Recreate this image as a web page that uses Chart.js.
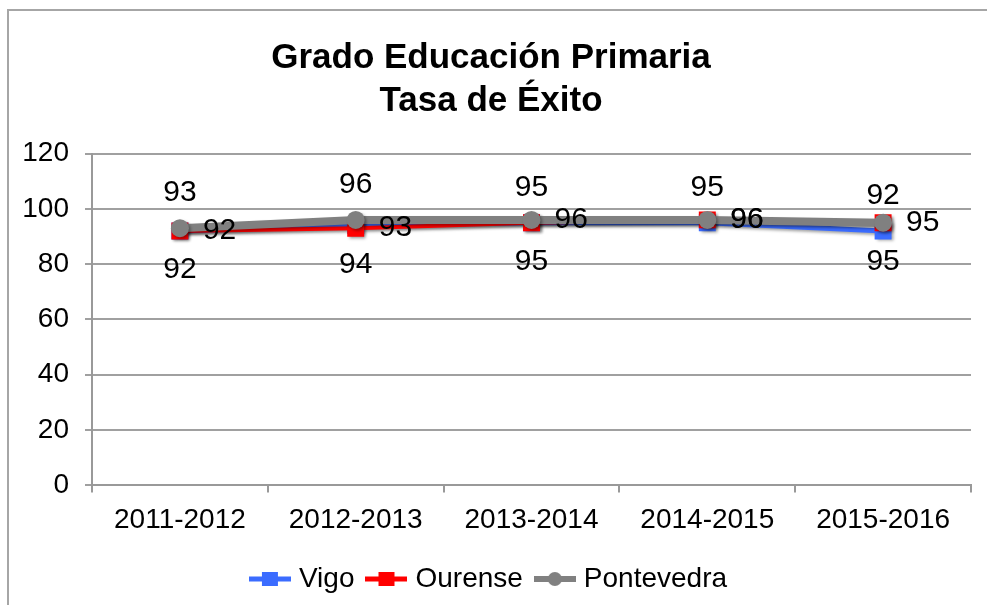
<!DOCTYPE html>
<html>
<head>
<meta charset="utf-8">
<script src="https://cdn.jsdelivr.net/npm/chart.js@4"></script>
<style>
  html, body { margin: 0; padding: 0; background: #fff; overflow: hidden; }
  #frame {
    position: absolute; left: 7px; top: 9px;
    width: 978px; height: 594px;
    border-top: 2px solid #a6a6a6; border-left: 2px solid #a6a6a6;
  }
  #wrap { position: absolute; left: 0; top: 0; width: 978px; height: 594px; }
</style>
</head>
<body>
<div id="frame"><div id="wrap"><canvas id="chart"></canvas></div></div>
<script>
const years = ["2011-2012", "2012-2013", "2013-2014", "2014-2015", "2015-2016"];
const vigo = [92, 94, 95, 95, 92];
const ourense = [92, 93, 95, 96, 95];
const pontevedra = [93, 96, 96, 96, 95];
const yTicks = [0, 20, 40, 60, 80, 100, 120];

// where each value label sits (Excel had them dragged around by hand)
const vigoPlace = ["below", "below", "above", "above", "above"];
const ourensePlace = ["right", "right", "below", "right", "below"];
const pontePlace = ["above", "above", "right", "right", "right"];

const FONT = '"Liberation Sans", Arial, sans-serif';

function legendIcon(color, lw, style) {
  const c = document.createElement("canvas");
  c.width = 42; c.height = 18;
  const g = c.getContext("2d");
  g.strokeStyle = color;
  g.fillStyle = color;
  g.lineWidth = lw;
  g.beginPath(); g.moveTo(0, 9); g.lineTo(42, 9); g.stroke();
  if (style === "rect") {
    g.fillRect(13, 2, 16, 14);
  } else {
    g.beginPath(); g.arc(21, 9, 7, 0, Math.PI * 2); g.fill();
  }
  return c;
}

const shadowPlugin = {
  id: "shadow",
  beforeDatasetDraw(chart) {
    const ctx = chart.ctx;
    ctx.save();
    ctx.shadowColor = "rgba(0,0,0,0.35)";
    ctx.shadowBlur = 3;
    ctx.shadowOffsetX = 2;
    ctx.shadowOffsetY = 2;
  },
  afterDatasetDraw(chart) {
    chart.ctx.restore();
  }
};

const valueLabels = {
  id: "valueLabels",
  afterDatasetsDraw(chart) {
    const ctx = chart.ctx;
    ctx.save();
    ctx.font = "30px " + FONT;
    ctx.fillStyle = "#000";
    ctx.textBaseline = "middle";
    chart.data.datasets.forEach((ds, i) => {
      const meta = chart.getDatasetMeta(i);
      meta.data.forEach((pt, j) => {
        const where = ds.labelPlace[j];
        let x = pt.x, y = pt.y;
        ctx.textAlign = "center";
        if (where === "above") y -= 35;
        else if (where === "below") y += 39;
        else { ctx.textAlign = "left"; x += 23; }
        ctx.fillText(String(ds.data[j]), x, y);
      });
    });
    ctx.restore();
  }
};

const icons = [
  legendIcon("#3b6cff", 5, "rect"),
  legendIcon("#ff0000", 5, "rect"),
  legendIcon("#808080", 6, "circle")
];

new Chart(document.getElementById("chart"), {
  type: "line",
  plugins: [shadowPlugin, valueLabels],
  data: {
    labels: years,
    datasets: [
      {
        label: "Vigo",
        data: vigo,
        labelPlace: vigoPlace,
        borderColor: "#3b6cff",
        backgroundColor: "#3b6cff",
        borderWidth: 5,
        pointStyle: "rect",
        pointRadius: 12,
        pointBorderWidth: 0,
        order: 2
      },
      {
        label: "Ourense",
        data: ourense,
        labelPlace: ourensePlace,
        borderColor: "#ff0000",
        backgroundColor: "#ff0000",
        borderWidth: 4,
        pointStyle: "rect",
        pointRadius: 12,
        pointBorderWidth: 0,
        order: 1
      },
      {
        label: "Pontevedra",
        data: pontevedra,
        labelPlace: pontePlace,
        borderColor: "#808080",
        backgroundColor: "#808080",
        borderWidth: 8,
        pointStyle: "circle",
        pointRadius: 9,
        pointBorderWidth: 0,
        order: 0
      }
    ]
  },
  options: {
    responsive: true,
    maintainAspectRatio: false,
    animation: false,
    layout: { padding: { left: 2, right: 16, top: 0, bottom: 2 } },
    plugins: {
      title: {
        display: true,
        text: ["Grado Educación Primaria", "Tasa de Éxito"],
        color: "#000",
        font: { family: FONT, size: 35, weight: "bold", lineHeight: 1.25 },
        padding: { top: 25, bottom: 30 }
      },
      legend: {
        position: "bottom",
        labels: {
          usePointStyle: true,
          pointStyleWidth: 30,
          padding: 17,
          color: "#000",
          font: { family: FONT, size: 28 },
          sort: (a, b) => a.datasetIndex - b.datasetIndex,
          generateLabels: (chart) => chart.data.datasets.map((ds, i) => ({
            text: ds.label,
            pointStyle: icons[i],
            datasetIndex: i,
            fillStyle: ds.borderColor,
            strokeStyle: ds.borderColor,
            lineWidth: 0,
            hidden: false,
            fontColor: "#000"
          }))
        }
      },
      tooltip: { enabled: false }
    },
    scales: {
      x: {
        offset: true,
        grid: {
          offset: true,
          drawOnChartArea: false,
          tickLength: 7,
          color: "#999",
          lineWidth: 2
        },
        border: { color: "#999", width: 2 },
        ticks: { color: "#000", font: { family: FONT, size: 28 }, padding: 11 }
      },
      y: {
        min: 0,
        max: 120,
        afterBuildTicks: (scale) => { scale.ticks = yTicks.map(v => ({ value: v })); },
        afterFit: (scale) => { scale.width = 81; },
        grid: { color: "#a0a0a0", lineWidth: 2, tickLength: 7 },
        border: { color: "#999", width: 2 },
        ticks: { color: "#000", font: { family: FONT, size: 28 }, padding: 16 }
      }
    }
  }
});
</script>
</body>
</html>
